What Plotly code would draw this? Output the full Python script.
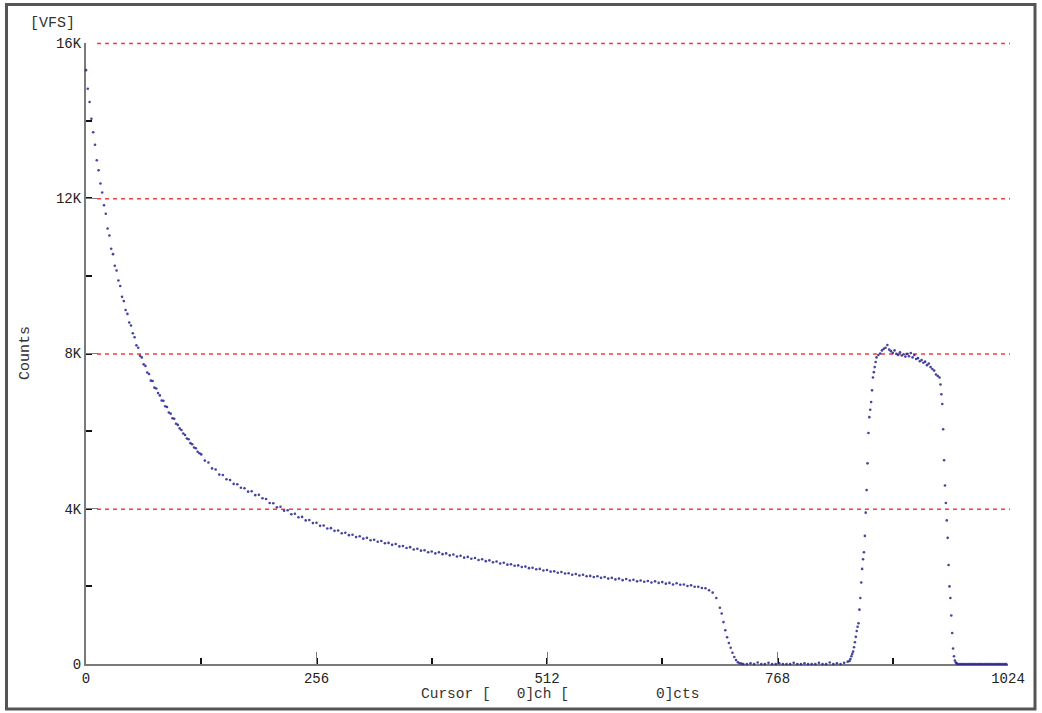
import plotly.graph_objects as go

# ---- data (channel -> counts) ----
# segment: (first channel, channel step, counts)
head_start, head_step = 0, 2
head_counts = [15300, 14820, 14480, 14050, 13700, 13380, 12980, 12720, 12380, 12150,
               11820, 11600, 11220, 11040, 10700, 10560, 10260, 10140, 9880, 9740,
               9460, 9350, 9120, 9020, 8800, 8720, 8520, 8420, 8210, 8150,
               7940, 7900, 7720, 7680, 7510, 7470, 7300, 7290, 7120, 7100,
               6980, 6920, 6790, 6780, 6640, 6620, 6480, 6450, 6330, 6320,
               6190, 6160, 6070, 6030, 5940, 5900, 5810, 5790, 5690, 5660,
               5580, 5560, 5470, 5430]

decay_start, decay_step = 128, 4
decay_counts = [5400, 5240, 5190, 5040, 5010, 4880, 4870, 4760, 4740, 4640,
                4630, 4540, 4530, 4440, 4450, 4350, 4360, 4270, 4250, 4150,
                4140, 4040, 4050, 3950, 3960, 3860, 3870, 3780, 3790, 3700,
                3710, 3630, 3640, 3560, 3570, 3490, 3500, 3430, 3440, 3370,
                3380, 3320, 3330, 3270, 3290, 3230, 3250, 3190, 3200, 3150,
                3170, 3110, 3120, 3070, 3090, 3030, 3040, 2990, 3010, 2950,
                2970, 2920, 2930, 2880, 2900, 2850, 2880, 2830, 2850, 2800,
                2820, 2770, 2790, 2740, 2760, 2710, 2730, 2680, 2700, 2650,
                2670, 2620, 2640, 2590, 2610, 2560, 2570, 2530, 2540, 2500,
                2510, 2470, 2480, 2440, 2450, 2410, 2420, 2380, 2390, 2350,
                2370, 2330, 2340, 2300, 2320, 2280, 2300, 2260, 2270, 2240,
                2260, 2220, 2240, 2200, 2220, 2180, 2200, 2160, 2190, 2150,
                2170, 2130, 2150, 2120, 2140, 2100, 2130, 2090, 2110, 2070,
                2090, 2050, 2080, 2040, 2050, 2010, 2030, 1990, 1990, 1960,
                1950, 1900, 1840, 1700, 1450]

drop_start, drop_step = 706, 2
drop_counts = [1300, 1080, 870, 690, 540, 420, 290, 180, 100, 45, 20, 10, 0]

gap_start, gap_step = 734, 4
gap_counts = [0, 20, 0, 40, 0, 0, 30, 0, 0, 20, 0, 0, 0, 30, 0,
              0, 20, 0, 0, 0, 30, 0, 0, 40, 0, 20, 0, 30, 60]

rise_start, rise_step = 848, 1
rise_counts = [80, 130, 200, 260, 320, 430, 560, 700, 850, 960,
               1050, 1400, 1700, 2100, 2450, 2700, 2880, 3300, 3900, 4480,
               5170, 5950, 6360, 6550, 6750, 7050, 7380, 7520, 7650, 7780, 7900]

plateau_start, plateau_step = 880, 2
plateau_counts = [7960, 8000, 8080, 8120, 8150, 8220, 8100, 8060, 8010, 8080,
                  7990, 7960, 8030, 7950, 7980, 7920, 7990, 7930, 8010, 7900,
                  7960, 7860, 7880, 7800, 7830, 7760, 7790, 7700, 7740, 7650,
                  7600, 7560, 7460, 7420, 7380]

fall_start, fall_step = 949, 1
fall_counts = [7200, 6950, 6700, 6050, 5250, 4600, 4150, 3700, 3250, 2550,
               2000, 1700, 1250, 800, 400, 200, 90, 40, 15, 0]

tail_start, tail_step = 970, 2
tail_counts = [0, 0, 0, 0, 0, 0, 0, 0, 0, 0, 0, 0, 0, 0, 0, 0, 0, 0, 0, 0,
               0, 0, 0, 0, 0, 0, 0]

x_ticks = [0, 256, 512, 768, 1024]
y_ticks = [0, 4000, 8000, 12000, 16000]
y_tick_text = ["0", "4K", "8K", "12K", "16K"]
y_max = 16000

segments = [
    (head_start, head_step, head_counts),
    (decay_start, decay_step, decay_counts),
    (drop_start, drop_step, drop_counts),
    (gap_start, gap_step, gap_counts),
    (rise_start, rise_step, rise_counts),
    (plateau_start, plateau_step, plateau_counts),
    (fall_start, fall_step, fall_counts),
    (tail_start, tail_step, tail_counts),
]

channels, counts = [], []
for start, step, vals in segments:
    channels += [start + i * step for i in range(len(vals))]
    counts += vals

# ---- figure ----
W, H = 1042, 713
L, R, T, B = 86, 34, 43, 49
pw, ph = W - L - R, H - T - B


def px_x(p):
    return (p - L) / pw


def px_y(p):
    return (H - B - p) / ph


MONO = "Liberation Mono"

fig = go.Figure()
fig.add_trace(go.Scatter(
    x=channels, y=counts, mode="markers",
    marker=dict(size=2.6, color="#23238f", opacity=0.85, line=dict(width=0)),
    cliponaxis=False, hoverinfo="skip", showlegend=False,
))

fig.update_layout(
    width=W, height=H,
    margin=dict(l=L, r=R, t=T, b=B, pad=0),
    paper_bgcolor="white", plot_bgcolor="white",
    showlegend=False,
    xaxis=dict(
        range=[0, 1024], tickvals=x_ticks, ticktext=[str(v) for v in x_ticks],
        showline=True, linecolor="#7a7a7a", linewidth=2, mirror=False,
        ticks="inside", ticklen=12, tickwidth=1, tickcolor="#7a7a7a",
        minor=dict(dtick=128, tick0=0, ticks="inside", ticklen=6, tickwidth=2,
                   tickcolor="#111111", showgrid=False),
        showgrid=False, zeroline=False, layer="below traces",
        tickfont=dict(family=MONO, size=14, color="#222222"),
    ),
    yaxis=dict(
        range=[0, y_max], tickvals=y_ticks, ticktext=y_tick_text,
        showline=True, linecolor="#7a7a7a", linewidth=2, mirror=False,
        ticks="inside", ticklen=12, tickwidth=1, tickcolor="#7a7a7a",
        minor=dict(dtick=2000, tick0=0, ticks="inside", ticklen=6, tickwidth=2,
                   tickcolor="#111111", showgrid=False),
        showgrid=False, zeroline=False, layer="below traces",
        tickfont=dict(family=MONO, size=14, color="#222222"),
    ),
)

# red dashed reference lines at the labelled count levels (paper refs so the
# top one is not clipped at the plot edge)
for v in y_ticks[1:]:
    yp = v / y_max - 0.5 / ph
    fig.add_shape(type="line", xref="paper", yref="paper",
                  x0=px_x(97), x1=px_x(1010), y0=yp, y1=yp,
                  line=dict(color="#f03c3c", width=1.3, dash="4px,4px"),
                  layer="below")

NB = "\u00a0"
fig.add_annotation(text="[VFS]", xref="paper", yref="paper",
                   x=px_x(28), y=px_y(23), xanchor="left", yanchor="middle",
                   showarrow=False, font=dict(family=MONO, size=15, color="#333333"))
fig.add_annotation(text="Counts", xref="paper", yref="paper", textangle=-90,
                   x=px_x(25), y=px_y(353), xanchor="center", yanchor="middle",
                   showarrow=False, font=dict(family=MONO, size=15, color="#333333"))
fig.add_annotation(text="Cursor" + NB + "[" + NB * 3 + "0]ch" + NB + "[" + NB * 10 + "0]cts",
                   xref="paper", yref="paper",
                   x=px_x(419), y=px_y(694), xanchor="left", yanchor="middle",
                   showarrow=False, font=dict(family=MONO, size=14.5, color="#333333"))

# outer frame of the window
fig.add_shape(type="rect", xref="paper", yref="paper",
              x0=px_x(6.5), x1=px_x(1035), y0=px_y(709), y1=px_y(4.5),
              line=dict(color="#555555", width=3), fillcolor="rgba(0,0,0,0)",
              layer="above")

fig.write_html("out.html")
